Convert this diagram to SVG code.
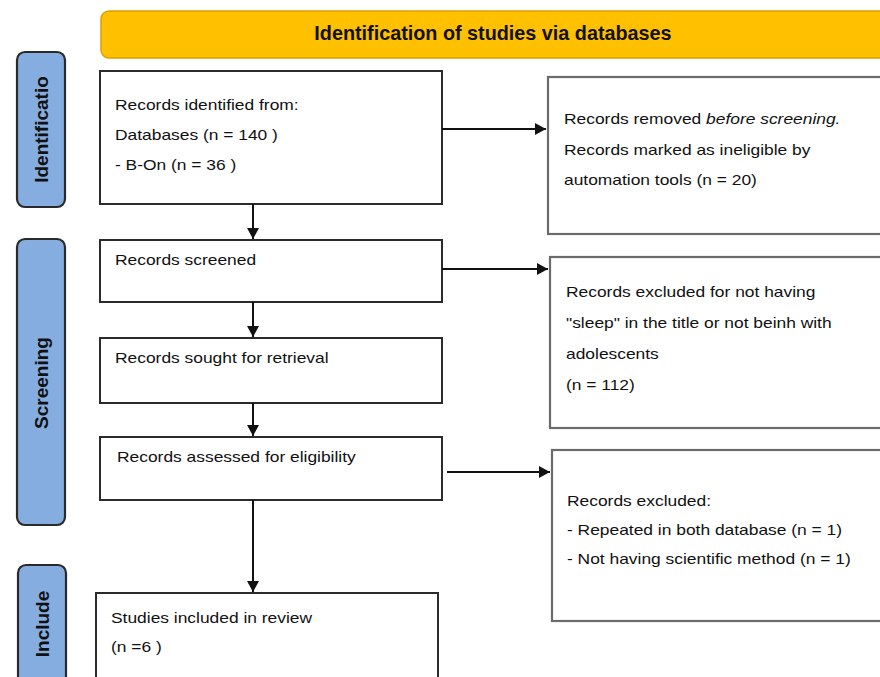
<svg xmlns="http://www.w3.org/2000/svg" width="880" height="677" viewBox="0 0 880 677">
<defs>
<style>
.bg{fill:#ffffff}
.box{fill:#ffffff;stroke:#2b2b2b;stroke-width:2}
.rbox{fill:#ffffff;stroke:#6b6b6b;stroke-width:2.2}
.side{fill:#85ADE0;stroke:#2a2a2a;stroke-width:2.2}
.banner{fill:#FFC000;stroke:#D9A000;stroke-width:1.5}
.t{font-family:"Liberation Sans",Arial,sans-serif;font-size:15px;fill:#111}
.h{font-family:"Liberation Sans",Arial,sans-serif;font-size:19.8px;font-weight:bold;fill:#111}
.s{font-family:"Liberation Sans",Arial,sans-serif;font-size:19px;font-weight:bold;fill:#111}
.c{stroke:#111;stroke-width:2;fill:none;marker-end:url(#ah)}
</style>
<marker id="ah" markerUnits="userSpaceOnUse" markerWidth="11" markerHeight="12" refX="11" refY="6" orient="auto">
<path d="M0,0 L11,6 L0,12 z" fill="#111"/>
</marker>
</defs>
<rect class="bg" x="0" y="0" width="880" height="677"/>

<g id="banner">
<rect class="banner" x="101" y="11" width="800" height="47" rx="8"/>
<text class="h" x="493" y="40" text-anchor="middle">Identification of studies via databases</text>
</g>

<g id="side-identification">
<rect class="side" x="17" y="52" width="48" height="155" rx="8"/>
<text class="s" transform="translate(48 129.5) rotate(-90)" text-anchor="middle">Identificatio</text>
</g>
<g id="side-screening">
<rect class="side" x="17" y="239" width="48" height="286" rx="8"/>
<text class="s" transform="translate(48 383) rotate(-90)" text-anchor="middle">Screening</text>
</g>
<g id="side-include">
<rect class="side" x="18" y="565" width="48" height="160" rx="8"/>
<text class="s" transform="translate(49 624) rotate(-90)" text-anchor="middle">Include</text>
</g>

<g id="records-identified">
<rect class="box" x="100" y="71" width="342" height="133"/>
<text class="t" transform="translate(115 110) scale(1.16 1)">Records identified from:</text>
<text class="t" transform="translate(115 140) scale(1.16 1)">Databases (n = 140 )</text>
<text class="t" transform="translate(115 170) scale(1.16 1)">- B-On (n = 36 )</text>
</g>

<g id="records-removed">
<rect class="rbox" x="548" y="77" width="360" height="157"/>
<text class="t" transform="translate(564 124) scale(1.16 1)">Records removed <tspan font-style="italic">before screening.</tspan></text>
<text class="t" transform="translate(564 155) scale(1.16 1)">Records marked as ineligible by</text>
<text class="t" transform="translate(564 185) scale(1.16 1)">automation tools (n = 20)</text>
</g>

<g id="records-screened">
<rect class="box" x="100" y="240" width="342" height="62"/>
<text class="t" transform="translate(115 265) scale(1.16 1)">Records screened</text>
</g>

<g id="records-excluded-title">
<rect class="rbox" x="550" y="257" width="360" height="171"/>
<text class="t" transform="translate(566 297) scale(1.16 1)">Records excluded for not having</text>
<text class="t" transform="translate(566 328) scale(1.16 1)">"sleep" in the title or not beinh with</text>
<text class="t" transform="translate(566 359) scale(1.16 1)">adolescents</text>
<text class="t" transform="translate(566 390) scale(1.16 1)">(n = 112)</text>
</g>

<g id="records-sought">
<rect class="box" x="100" y="338" width="342" height="65"/>
<text class="t" transform="translate(115 363) scale(1.16 1)">Records sought for retrieval</text>
</g>

<g id="records-assessed">
<rect class="box" x="100" y="437" width="342" height="63"/>
<text class="t" transform="translate(117 462) scale(1.16 1)">Records assessed for eligibility</text>
</g>

<g id="records-excluded">
<rect class="rbox" x="552" y="450" width="360" height="171"/>
<text class="t" transform="translate(567 506) scale(1.16 1)">Records excluded:</text>
<text class="t" transform="translate(567 535) scale(1.16 1)">- Repeated in both database (n = 1)</text>
<text class="t" transform="translate(567 564) scale(1.16 1)">- Not having scientific method (n = 1)</text>
</g>

<g id="studies-included">
<rect class="box" x="96" y="593" width="342" height="120"/>
<text class="t" transform="translate(111 623) scale(1.16 1)">Studies included in review</text>
<text class="t" transform="translate(111 652) scale(1.16 1)">(n =6 )</text>
</g>

<g id="connectors">
<line class="c" x1="442" y1="129" x2="546" y2="129"/>
<line class="c" x1="442" y1="269" x2="548" y2="269"/>
<line class="c" x1="447" y1="472" x2="550" y2="472"/>
<line class="c" x1="253" y1="204" x2="253" y2="239"/>
<line class="c" x1="253" y1="302" x2="253" y2="337"/>
<line class="c" x1="253" y1="403" x2="253" y2="436"/>
<line class="c" x1="253" y1="500" x2="253" y2="592"/>
</g>
</svg>
